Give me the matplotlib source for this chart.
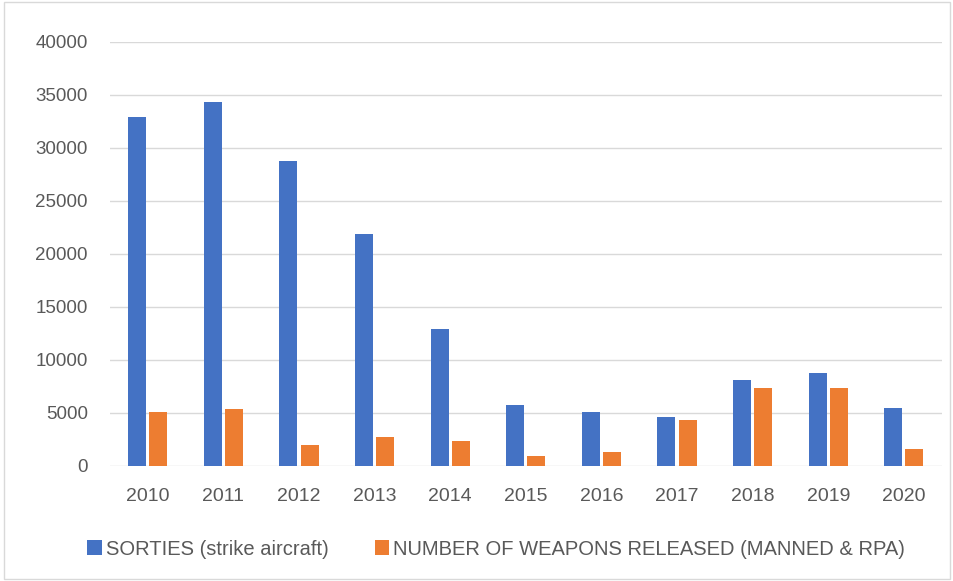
import matplotlib.pyplot as plt
import matplotlib.patches as patches
import numpy as np

years = ['2010', '2011', '2012', '2013', '2014', '2015', '2016', '2017', '2018', '2019', '2020']
sorties = [32950, 34300, 28780, 21830, 12900, 5730, 5130, 4590, 8150, 8750, 5510]
weapons = [5130, 5350, 1950, 2710, 2330, 980, 1320, 4380, 7360, 7360, 1580]

plt.rcParams['font.family'] = ['Liberation Sans', 'DejaVu Sans']
text_colour = '#595959'

figure = plt.figure(figsize=(9.54, 5.81), dpi=100)
figure.patches.append(patches.Rectangle((0.004, 0.004), 0.992, 0.992, transform=figure.transFigure,
                                        fill=False, edgecolor='#D9D9D9', linewidth=1))
axis = figure.add_axes([0.1153, 0.198, 0.8717, 0.730])

x = np.arange(len(years))
width = 0.24
axis.bar(x - 0.14, sorties, width, color='#4472C4', label='SORTIES (strike aircraft)', zorder=3)
axis.bar(x + 0.14, weapons, width, color='#ED7D31', label='NUMBER OF WEAPONS RELEASED (MANNED & RPA)', zorder=3)

axis.set_xlim(-0.5, len(years) - 0.5)
axis.set_ylim(0, 40000)
axis.set_yticks(np.arange(0, 40001, 5000))
axis.set_xticks(x)
axis.set_xticklabels(years)
axis.grid(axis='y', color='#D9D9D9', linewidth=1, zorder=0)
for side in ['top', 'right', 'left', 'bottom']:
    axis.spines[side].set_visible(False)
axis.tick_params(length=0, colors=text_colour)
axis.tick_params(axis='y', pad=16, labelsize=13.5)
axis.tick_params(axis='x', pad=16, labelsize=14)

figure.legend(loc='center', bbox_to_anchor=(0.52, 0.055), ncol=2, frameon=False, fontsize=14.5,
              handlelength=0.7, handleheight=0.7, handletextpad=0.2, columnspacing=2.3,
              labelcolor=text_colour)

figure.savefig('out.png')
